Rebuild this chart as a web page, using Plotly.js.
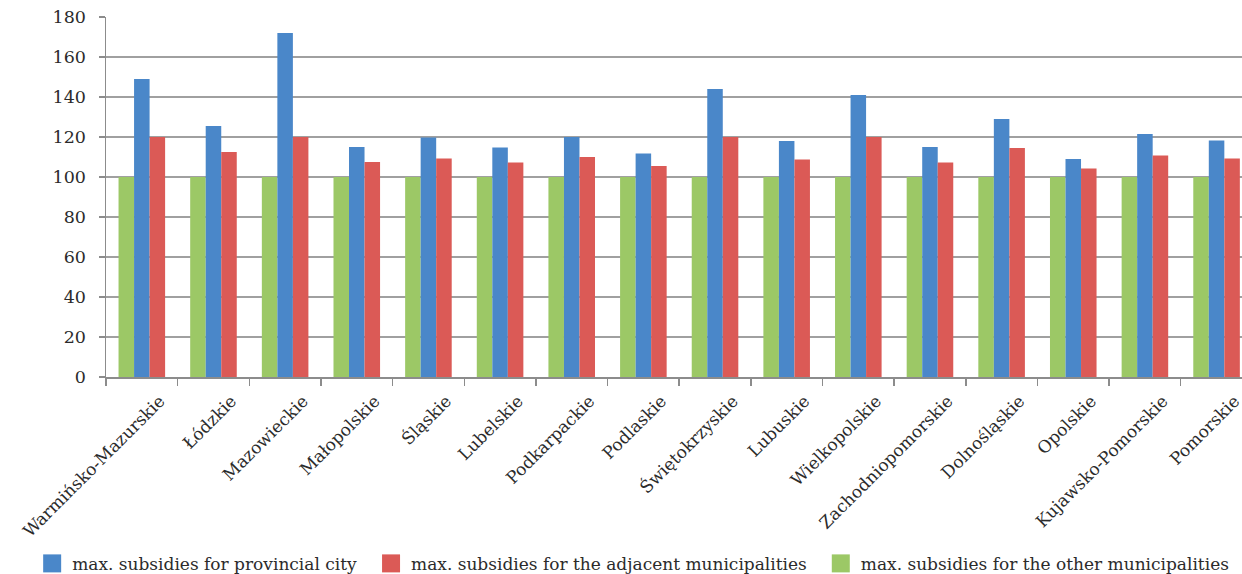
<!DOCTYPE html>
<html>
<head>
<meta charset="utf-8">
<script src="https://cdn.plot.ly/plotly-3.0.1.min.js"></script>
<style>
  html, body { margin: 0; padding: 0; background: #fff; }
  #chart { width: 1242px; height: 574px; }
</style>
</head>
<body>
<div id="chart"></div>
<script>
// Voivodeships (x categories)
const regions = [
  "Warmińsko-Mazurskie", "Łódzkie", "Mazowieckie", "Małopolskie", "Śląskie",
  "Lubelskie", "Podkarpackie", "Podlaskie", "Świętokrzyskie", "Lubuskie",
  "Wielkopolskie", "Zachodniopomorskie", "Dolnośląskie", "Opolskie",
  "Kujawsko-Pomorskie", "Pomorskie"
];

// Maximum subsidies (index, other municipalities = 100)
const provincialCity = [149, 125.5, 172, 115, 119.7, 114.7, 120, 111.7, 144, 118,
                        141, 115, 129, 109, 121.5, 118.3];
const adjacentMunicipalities = [120, 112.5, 120, 107.5, 109.3, 107.2, 110, 105.5, 120, 108.8,
                                120, 107.2, 114.5, 104.2, 110.8, 109.2];
const otherMunicipalities = [100, 100, 100, 100, 100, 100, 100, 100, 100, 100,
                             100, 100, 100, 100, 100, 100];

const seriesNames = [
  "max. subsidies for provincial city",
  "max. subsidies for the adjacent municipalities",
  "max. subsidies for the other municipalities"
];

const yTicks = [0, 20, 40, 60, 80, 100, 120, 140, 160, 180];

const FONT = "'DejaVu Serif', 'Liberation Serif', serif";
const TXT = "#2b2b2b";
const GRID = "#a0a0a0";

const traces = [
  { name: seriesNames[2], y: otherMunicipalities, color: "#9cc866", rank: 3 },
  { name: seriesNames[0], y: provincialCity, color: "#4a87c9", rank: 1 },
  { name: seriesNames[1], y: adjacentMunicipalities, color: "#db5a56", rank: 2 }
].map(s => ({
  type: "bar",
  x: regions,
  y: s.y,
  name: s.name,
  legendrank: s.rank,
  marker: { color: s.color, line: { width: 0 } },
  hoverinfo: "x+y+name"
}));

const layout = {
  width: 1242,
  height: 574,
  margin: { l: 106, r: 0, t: 17, b: 197, autoexpand: false },
  paper_bgcolor: "#ffffff",
  plot_bgcolor: "#ffffff",
  barmode: "group",
  bargap: 0.35,
  bargroupgap: 0,
  font: { family: FONT, size: 17, color: TXT },
  showlegend: true,
  legend: {
    orientation: "h",
    x: -0.065, xanchor: "left",
    y: -0.469, yanchor: "top",
    font: { family: FONT, size: 17, color: TXT },
    traceorder: "normal",
    bgcolor: "rgba(0,0,0,0)"
  },
  xaxis: {
    type: "category",
    range: [-0.5, 15.355],
    tickangle: -45,
    tickson: "boundaries",
    ticks: "outside",
    ticklen: 7,
    tickwidth: 1.5,
    tickcolor: "#8c8c8c",
    ticklabelshift: 18,
    ticklabelstandoff: 6,
    showline: true,
    linecolor: "#8c8c8c",
    linewidth: 1.5,
    showgrid: false,
    tickfont: { family: FONT, size: 17, color: TXT },
    fixedrange: true
  },
  yaxis: {
    range: [0, 180],
    tickvals: yTicks,
    ticktext: yTicks.map(String),
    ticks: "outside",
    ticklen: 6,
    tickwidth: 1.5,
    tickcolor: "#8c8c8c",
    ticklabelstandoff: 9,
    showline: true,
    linecolor: "#8c8c8c",
    linewidth: 1.5,
    showgrid: true,
    gridcolor: GRID,
    gridwidth: 1.8,
    zeroline: false,
    tickfont: { family: FONT, size: 17.5, color: TXT },
    fixedrange: true
  }
};

Plotly.newPlot("chart", traces, layout, { displayModeBar: false, staticPlot: true }).then(gd => {
  // larger square legend swatches
  gd.querySelectorAll(".legend .legendpoints path").forEach(p => {
    p.setAttribute("d", "M9,9H-9V-9H9Z");
  });
  // a little more room between legend entries
  gd.querySelectorAll(".legend g.traces").forEach((g, i) => {
    const m = /translate\(([-\d.]+)[ ,]+([-\d.]+)\)/.exec(g.getAttribute("transform") || "");
    if (m) g.setAttribute("transform", `translate(${+m[1] + i * 9},${m[2]})`);
  });
  // the widened legend no longer fits its original clip box
  gd.querySelectorAll(".legend [clip-path]").forEach(el => el.removeAttribute("clip-path"));
});
</script>
</body>
</html>
